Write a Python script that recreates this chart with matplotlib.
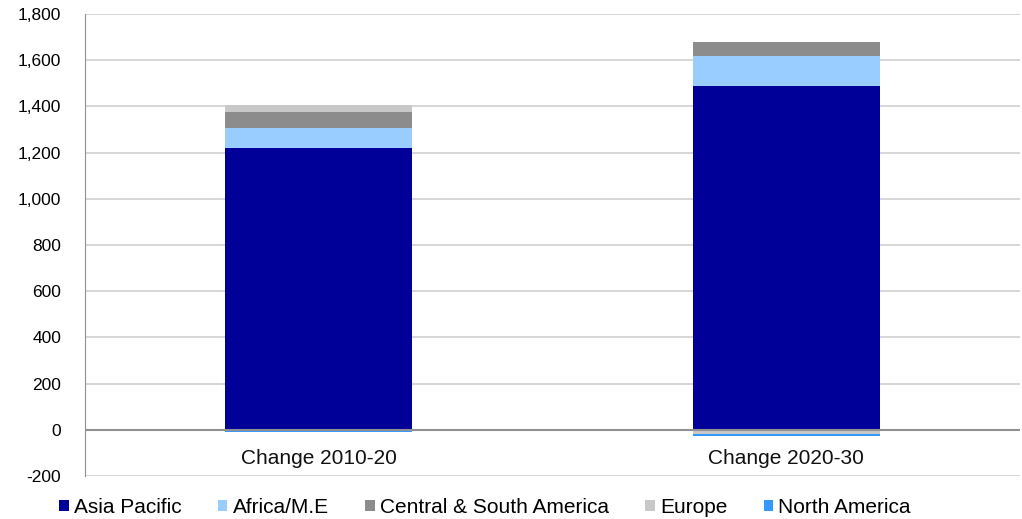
import numpy as np
import matplotlib.pyplot as plt
import matplotlib.transforms as mtransforms

plt.rcParams['font.family'] = ['Liberation Sans', 'DejaVu Sans']

# data
categories = ['Change 2010-20', 'Change 2020-30']
regions = ['Asia Pacific', 'Africa/M.E', 'Central & South America', 'Europe', 'North America']
asia_pacific = [1220, 1488]
africa_me = [88, 130]
central_south_america = [67, 60]
europe = [30, -20]
north_america = [-8, -8]
colors = ['#000099', '#99CCFF', '#8C8C8C', '#C8C8C8', '#3399FF']

series = [asia_pacific, africa_me, central_south_america, europe, north_america]

fig = plt.figure(figsize=(10.22, 5.19), dpi=100)
ax = fig.add_axes([0.083, 0.083, 0.915, 0.89])

x = np.arange(len(categories))
pos_base = np.zeros(len(categories))
neg_base = np.zeros(len(categories))
for name, vals, c in zip(regions, series, colors):
    vals = np.array(vals, dtype=float)
    bottom = np.where(vals >= 0, pos_base, neg_base)
    ax.bar(x, vals, width=0.4, bottom=bottom, color=c, label=name, zorder=3)
    pos_base += np.where(vals >= 0, vals, 0)
    neg_base += np.where(vals < 0, vals, 0)

ax.set_xlim(-0.5, len(categories) - 0.5)
ax.set_ylim(-200, 1800)
ax.set_yticks(np.arange(-200, 1801, 200))
ax.set_yticklabels(['{:,}'.format(v) for v in range(-200, 1801, 200)], fontsize=12.5)
ax.yaxis.grid(True, color='#D0D0D0', linewidth=1.2, zorder=0)
ax.axhline(0, color='#909090', linewidth=1.5, zorder=4)
ax.tick_params(axis='y', length=0, pad=17)
ax.tick_params(axis='x', bottom=False, labelbottom=False)
for s in ['top', 'right', 'bottom']:
    ax.spines[s].set_visible(False)
ax.spines['left'].set_color('#909090')

# category labels sit just under the zero line
trans = mtransforms.offset_copy(ax.transData, fig=fig, x=0, y=-14, units='points')
for xi, lab in zip(x, categories):
    ax.text(xi, 0, lab, transform=trans, ha='center', va='top', fontsize=15, color='#111111')

ax.legend(loc='center', bbox_to_anchor=(0.428, -0.069), ncol=5, frameon=False,
          fontsize=15, handlelength=0.45, handleheight=0.45, handletextpad=0.25,
          columnspacing=1.75, borderaxespad=0, borderpad=0)

fig.savefig('out.png', dpi=100)
